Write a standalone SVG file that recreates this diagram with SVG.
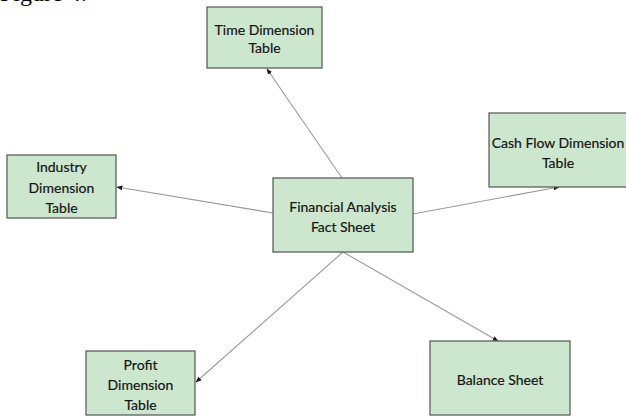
<svg xmlns="http://www.w3.org/2000/svg" width="626" height="416" viewBox="0 0 626 416">
<style>
.box{fill:#cde7cf;stroke:#5f5f5f;stroke-width:1.3}
.lbl{font-family:Lato,"Open Sans","Liberation Sans",sans-serif;font-size:14px;fill:#141414;stroke:#141414;stroke-width:0.2;text-anchor:middle}
.edge{stroke:#9a9a9a;stroke-width:1.1;fill:none;marker-end:url(#ah)}
</style>
<defs>
<marker id="ah" viewBox="0 0 10 10" refX="9" refY="5" markerWidth="6" markerHeight="6" orient="auto" markerUnits="userSpaceOnUse">
<path d="M0,1 L10,5 L0,9 z" fill="#1a1a1a"/>
</marker>
</defs>
<rect width="626" height="416" fill="#ffffff"/>
<text x="0" y="1" font-family="'Liberation Serif',serif" font-size="24" fill="#000">Figure 4.</text>
<g id="connectors">
<line class="edge" x1="342" y1="178" x2="267" y2="69"/>
<line class="edge" x1="413" y1="214" x2="559" y2="187"/>
<line class="edge" x1="273" y1="213" x2="117" y2="187"/>
<line class="edge" x1="343" y1="252" x2="196" y2="382"/>
<line class="edge" x1="343" y1="252" x2="498" y2="341"/>
</g>
<g id="time">
<rect class="box" x="207" y="7" width="115" height="61"/>
<text class="lbl" x="264.5" y="35">Time Dimension</text>
<text class="lbl" x="264.5" y="53">Table</text>
</g>
<g id="fact">
<rect class="box" x="273" y="178" width="140" height="74"/>
<text class="lbl" x="343" y="212" font-size="14.5">Financial Analysis</text>
<text class="lbl" x="343" y="232" font-size="14.5">Fact Sheet</text>
</g>
<g id="cashflow">
<rect class="box" x="489" y="113" width="140" height="74"/>
<text class="lbl" x="558" y="148">Cash Flow Dimension</text>
<text class="lbl" x="558" y="168">Table</text>
</g>
<g id="industry">
<rect class="box" x="7" y="155" width="109" height="63"/>
<text class="lbl" x="61.5" y="172">Industry</text>
<text class="lbl" x="61.5" y="193">Dimension</text>
<text class="lbl" x="61.5" y="213">Table</text>
</g>
<g id="profit">
<rect class="box" x="86" y="351" width="109" height="64"/>
<text class="lbl" x="140.5" y="370">Profit</text>
<text class="lbl" x="140.5" y="390">Dimension</text>
<text class="lbl" x="140.5" y="410">Table</text>
</g>
<g id="balance">
<rect class="box" x="430" y="341" width="140" height="74"/>
<text class="lbl" x="500" y="385">Balance Sheet</text>
</g>
</svg>
